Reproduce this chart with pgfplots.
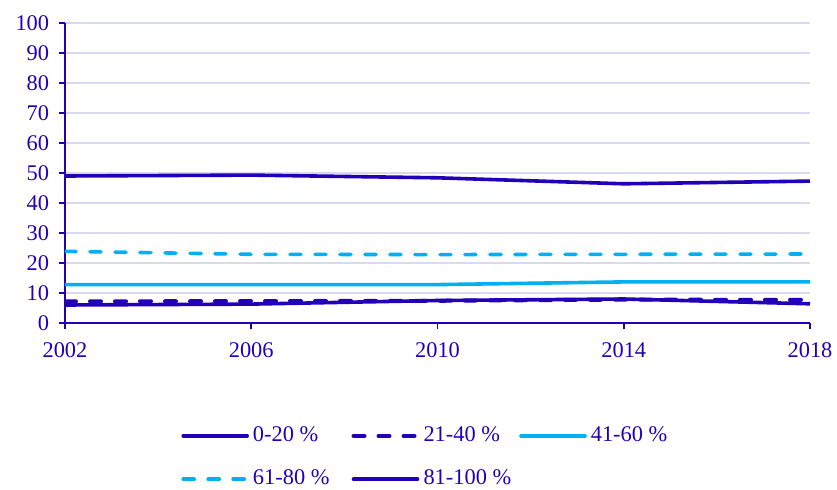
\documentclass[border=0pt]{standalone}
\usepackage{fontspec}
\setmainfont{Liberation Serif}
\usepackage{pgfplots}
\pgfplotsset{compat=1.18}
\definecolor{dblue}{HTML}{2200B8}
\definecolor{lblue}{HTML}{00B0F0}
\definecolor{gridc}{HTML}{D9D9F2}
\begin{document}
\fontsize{11.2}{13}\selectfont
\begin{tikzpicture}
\begin{axis}[
  at={(32.5pt,83pt)}, anchor=south west,
  scale only axis, width=372.5pt, height=150pt,
  xmin=2002, xmax=2018, ymin=0, ymax=100,
  xtick={2002,2006,2010,2014,2018},
  ytick={0,10,...,100},
  axis x line*=bottom, axis y line*=left,
  axis line style={dblue, line width=0.75pt, -},
  tick style={dblue, line width=0.75pt},
  tick align=outside, major tick length=3pt,
  ymajorgrids, grid style={gridc, line width=1pt},
  /pgf/number format/assume math mode=true,
  /pgf/number format/1000 sep={},
  ticklabel style={font=\fontsize{11.2}{13}\selectfont, text=dblue},
  xticklabel style={yshift=-3pt},
  yticklabel style={xshift=-1pt},
  legend columns=3,
  legend style={draw=none, fill=none, at={(rel axis cs:0,0)}, anchor=north west,
    xshift=55pt, yshift=-47.6pt, font=\fontsize{11.2}{13}\selectfont, text=dblue,
    row sep=8.6pt,
    /tikz/column 2/.append style={column sep=9pt},
    /tikz/column 4/.append style={column sep=2pt}},
  legend cell align=left,
  legend image code/.code={\draw[#1, line cap=round] (0pt,0pt) -- (32pt,0pt);},
]
\addplot[dblue, line width=1.8pt] coordinates {(2002,6.0) (2006,6.3) (2010,7.5) (2014,8.0) (2018,6.4)};
\addlegendentry{0-20 \%}
\addplot[dblue, line width=2pt, dash pattern=on 5.5pt off 7pt, line cap=round] coordinates {(2002,7.2) (2006,7.3) (2010,7.4) (2014,7.8) (2018,7.7)};
\addlegendentry{21-40 \%}
\addplot[lblue, line width=1.8pt] coordinates {(2002,12.8) (2006,12.8) (2010,12.8) (2014,13.7) (2018,13.7)};
\addlegendentry{41-60 \%}
\addplot[lblue, line width=1.8pt, dash pattern=on 5.5pt off 7pt, line cap=round] coordinates {(2002,23.9) (2006,22.9) (2010,22.8) (2014,22.9) (2018,23.0)};
\addlegendentry{61-80 \%}
\addplot[dblue, line width=1.8pt] coordinates {(2002,49.0) (2006,49.3) (2010,48.4) (2014,46.4) (2018,47.3)};
\addlegendentry{81-100 \%}
\end{axis}
\pgfresetboundingbox
\path (0,0) rectangle (418.5pt,244.5pt);
\end{tikzpicture}
\end{document}
